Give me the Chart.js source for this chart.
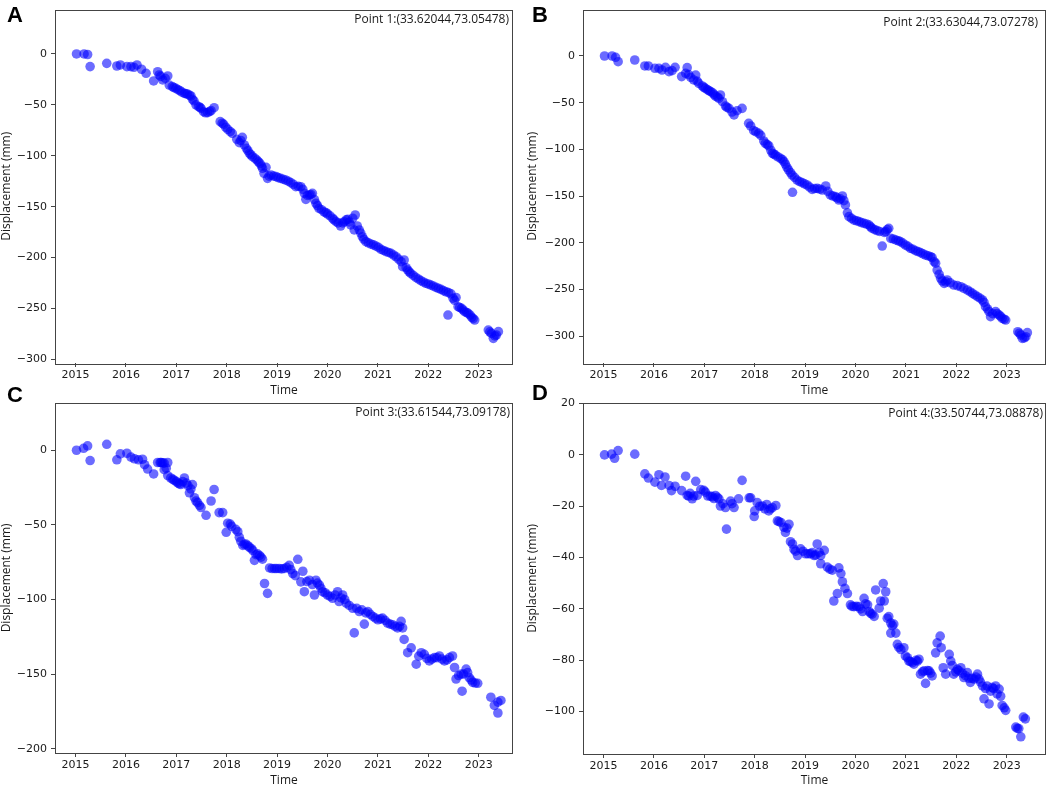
<!DOCTYPE html>
<html>
<head>
<meta charset="utf-8">
<script src="https://cdn.jsdelivr.net/npm/chart.js@4.4.0/dist/chart.umd.min.js"></script>
<style>
  body { margin: 0; background: #fff; }
  #wrap { position: relative; width: 1052px; height: 787px; overflow: hidden; background: #fff; }
  canvas { position: absolute; }
  .tag { position: absolute; font: bold 22px "Liberation Sans", Arial, sans-serif; line-height: 1; color: #000; }
</style>
</head>
<body>
<div id="wrap">
  <canvas id="chartA"></canvas>
  <canvas id="chartB"></canvas>
  <canvas id="chartC"></canvas>
  <canvas id="chartD"></canvas>
  <div class="tag" style="left:7px;top:4px">A</div>
  <div class="tag" style="left:532px;top:4px">B</div>
  <div class="tag" style="left:7px;top:384px">C</div>
  <div class="tag" style="left:532px;top:382px">D</div>
</div>
<script>
// values: [decimal year, displacement in mm]
const pointsA = [
  [2015.02, 0], [2015.17, 0], [2015.24, -0.5], [2015.29, -12.4], [2015.62, -9.2], [2015.82, -11.8],
  [2015.89, -10.8], [2016.02, -12.4], [2016.10, -12.4], [2016.16, -13.1], [2016.22, -10.8], [2016.31, -15],
  [2016.40, -19], [2016.55, -26.5], [2016.63, -17.4], [2016.66, -20.6], [2016.73, -25.5], [2016.78, -23.9],
  [2016.83, -21.6], [2016.86, -30.5], [2016.92, -32], [2016.99, -33.7], [2017.07, -36], [2017.16, -38.7],
  [2017.22, -39.3], [2017.29, -41.3], [2017.32, -44.5], [2017.39, -50], [2017.44, -51.8], [2017.49, -53.4],
  [2017.54, -56.7], [2017.62, -57.6], [2017.69, -55.7], [2017.75, -52.8], [2017.87, -66.5], [2017.94, -69.1],
  [2018.02, -74], [2018.07, -76.3], [2018.20, -83.8], [2018.25, -87.1], [2018.31, -81.9], [2018.35, -89.4],
  [2018.39, -92.7], [2018.45, -97.6], [2018.51, -100.9], [2018.60, -104.2], [2018.66, -107.4], [2018.71, -112.3],
  [2018.74, -117.3], [2018.78, -111.4], [2018.81, -122.2], [2018.88, -118.9], [2018.98, -120.5], [2019.07, -122.2],
  [2019.17, -123.8], [2019.27, -126.4], [2019.37, -130.4], [2019.47, -130.4], [2019.54, -136.9], [2019.57, -142.8],
  [2019.64, -138.5], [2019.70, -136.9], [2019.77, -146.7], [2019.83, -151.6], [2019.93, -155], [2020.00, -157.2],
  [2020.10, -161.4], [2020.17, -164.8], [2020.26, -169], [2020.33, -164.8], [2020.40, -162.5], [2020.46, -168],
  [2020.50, -161.4], [2020.53, -172.9], [2020.55, -158.2], [2020.63, -172.9], [2020.69, -179.5], [2020.76, -184.4],
  [2020.86, -186.7], [2020.96, -188.7], [2021.06, -191.9], [2021.16, -194.2], [2021.26, -195.8], [2021.36, -199.2],
  [2021.46, -204.1], [2021.49, -209], [2021.52, -202.4], [2021.59, -212.2], [2021.65, -215.5], [2021.75, -219.4],
  [2021.85, -222.7], [2021.95, -225.3], [2022.05, -227], [2022.15, -229.3], [2022.25, -231.3], [2022.35, -233.6],
  [2022.39, -256.5], [2022.45, -235.6], [2022.49, -240], [2022.55, -239.2], [2022.59, -248.3], [2022.66, -249.9],
  [2022.72, -253.2], [2022.79, -254.8], [2022.86, -258.7], [2022.92, -261.4], [2023.19, -271.2], [2023.25, -274.5],
  [2023.29, -279.4], [2023.35, -276.1], [2023.39, -272.8],
  // points inside the dense band
  [2016.69, -22], [2016.95, -33], [2017.03, -35], [2017.11, -37.5], [2017.19, -39], [2017.26, -40.5],
  [2017.35, -46], [2017.47, -52.5], [2017.58, -57.8], [2017.66, -56.5], [2017.91, -68], [2017.98, -72],
  [2018.11, -78], [2018.28, -85], [2018.42, -95], [2018.48, -99], [2018.56, -102.5], [2018.63, -106],
  [2018.69, -110], [2018.84, -120], [2018.93, -120], [2019.02, -121.5], [2019.12, -123], [2019.22, -125],
  [2019.32, -128], [2019.42, -130], [2019.51, -133], [2019.60, -139], [2019.67, -138], [2019.74, -143],
  [2019.80, -149], [2019.88, -153], [2019.97, -156], [2020.05, -159], [2020.13, -163], [2020.21, -166],
  [2020.30, -166], [2020.37, -163], [2020.43, -165], [2020.59, -169], [2020.66, -176], [2020.72, -182],
  [2020.81, -185.5], [2020.91, -187.5], [2021.01, -190], [2021.11, -193], [2021.21, -195], [2021.31, -197.5],
  [2021.41, -201.5], [2021.56, -210], [2021.62, -214], [2021.70, -217.5], [2021.80, -221], [2021.90, -224],
  [2022.00, -226], [2022.10, -228], [2022.20, -230.3], [2022.30, -232.5], [2022.40, -234.5], [2022.52, -242],
  [2022.62, -249], [2022.69, -251.5], [2022.76, -254], [2022.83, -256.5], [2022.89, -260], [2023.22, -273],
  [2023.32, -277]
];

const pointsB = [
  [2015.02, 0], [2015.17, 0], [2015.24, -1.4], [2015.29, -6.1], [2015.62, -4.3], [2015.82, -10.7],
  [2015.89, -10.7], [2016.02, -13.2], [2016.10, -13.2], [2016.16, -15], [2016.23, -12.1], [2016.30, -16.8],
  [2016.36, -15.7], [2016.42, -12.1], [2016.55, -22.1], [2016.63, -18.6], [2016.66, -12.5], [2016.73, -22.9],
  [2016.79, -25.7], [2016.83, -20.4], [2016.89, -29.3], [2016.96, -32.1], [2017.02, -34.6], [2017.09, -37.1],
  [2017.16, -39.3], [2017.22, -42.9], [2017.29, -45.4], [2017.32, -41.8], [2017.42, -53.6], [2017.49, -56.1],
  [2017.59, -63.2], [2017.65, -58.6], [2017.75, -56.1], [2017.88, -72.1], [2018.02, -81.1], [2018.08, -82.9],
  [2018.21, -93.6], [2018.28, -96.4], [2018.35, -104.3], [2018.41, -106.1], [2018.51, -109.6], [2018.58, -113.2],
  [2018.64, -119.3], [2018.74, -127.5], [2018.75, -146], [2018.84, -132.9], [2018.94, -135.7], [2019.04, -138.2],
  [2019.14, -142.9], [2019.24, -141.8], [2019.34, -143.6], [2019.41, -139.3], [2019.50, -148.9], [2019.60, -150.7],
  [2019.67, -154.3], [2019.74, -150], [2019.80, -159.6], [2019.87, -172.1], [2019.97, -175.7], [2020.07, -177.5],
  [2020.17, -179.3], [2020.27, -181.1], [2020.33, -184.6], [2020.43, -187.1], [2020.53, -203.6], [2020.60, -188.2],
  [2020.66, -184.6], [2020.70, -195.4], [2020.80, -197.1], [2020.89, -198.9], [2020.99, -202.5], [2021.09, -206],
  [2021.19, -208.6], [2021.29, -210.7], [2021.39, -213.2], [2021.49, -215], [2021.56, -220.4], [2021.62, -229.3],
  [2021.69, -238.2], [2021.76, -243.6], [2021.82, -240], [2021.95, -245.4], [2022.09, -247.2], [2022.22, -250.7],
  [2022.32, -254.3], [2022.42, -257.9], [2022.52, -261.4], [2022.58, -268.6], [2022.65, -273.9], [2022.68, -279.3],
  [2022.78, -273.9], [2022.85, -277.5], [2022.91, -281.1], [2022.98, -282.9], [2023.22, -295.4], [2023.28, -298.9],
  [2023.31, -302.5], [2023.38, -300.7], [2023.41, -296.4],
  // points inside the dense band
  [2016.69, -20], [2016.86, -27], [2016.99, -33.5], [2017.06, -36], [2017.12, -38], [2017.19, -41],
  [2017.26, -44], [2017.36, -49], [2017.45, -55], [2017.55, -60], [2017.92, -75], [2017.98, -80],
  [2018.12, -85], [2018.18, -91], [2018.25, -95], [2018.32, -101], [2018.38, -105], [2018.46, -108],
  [2018.55, -111], [2018.61, -116], [2018.67, -122], [2018.71, -125], [2018.79, -130], [2018.89, -134.5],
  [2018.99, -137], [2019.09, -140.5], [2019.19, -142], [2019.29, -142.5], [2019.45, -145], [2019.55, -150],
  [2019.63, -152], [2019.70, -153], [2019.77, -155], [2019.84, -168], [2019.92, -174], [2020.02, -176.5],
  [2020.12, -178.5], [2020.22, -180], [2020.30, -183], [2020.38, -186], [2020.48, -188], [2020.57, -189],
  [2020.63, -186], [2020.75, -196], [2020.85, -198], [2020.94, -200.5], [2021.04, -204], [2021.14, -207],
  [2021.24, -209.5], [2021.34, -212], [2021.44, -214], [2021.52, -216], [2021.59, -222], [2021.66, -234],
  [2021.72, -241], [2021.79, -242], [2021.88, -243], [2022.02, -246], [2022.15, -249], [2022.27, -252.5],
  [2022.37, -256], [2022.47, -259.5], [2022.55, -264], [2022.62, -271], [2022.72, -276], [2022.81, -276],
  [2022.88, -279], [2022.95, -282], [2023.25, -297], [2023.35, -302]
];

const pointsC = [
  [2015.02, 0], [2015.16, 1.3], [2015.24, 2.9], [2015.29, -6.9], [2015.62, 4], [2015.82, -6.4],
  [2015.89, -2.4], [2016.02, -2], [2016.10, -4.6], [2016.17, -5.7], [2016.25, -6.4], [2016.33, -6],
  [2016.37, -9.7], [2016.43, -12.6], [2016.55, -15.9], [2016.63, -8.2], [2016.70, -8.2], [2016.76, -8.6],
  [2016.76, -13], [2016.83, -8.2], [2016.83, -17], [2016.89, -18.6], [2016.96, -20.1], [2017.03, -21.9],
  [2017.09, -23], [2017.16, -18.6], [2017.23, -23.7], [2017.26, -28.5], [2017.32, -23], [2017.36, -31.8],
  [2017.42, -35.1], [2017.49, -38.4], [2017.59, -43.6], [2017.69, -34], [2017.75, -26.3], [2017.85, -41.8],
  [2017.92, -41.8], [2017.99, -55], [2018.02, -48.9], [2018.07, -49.5], [2018.22, -54.6], [2018.25, -58.3],
  [2018.32, -63.8], [2018.38, -62.8], [2018.45, -65], [2018.52, -67.2], [2018.55, -73.8], [2018.61, -69.4],
  [2018.68, -71.6], [2018.75, -89.3], [2018.81, -95.9], [2018.85, -78.9], [2018.95, -79.3], [2019.04, -79.3],
  [2019.14, -79.3], [2019.24, -77.1], [2019.31, -82.6], [2019.41, -73.1], [2019.47, -88.2], [2019.51, -81.1],
  [2019.54, -94.8], [2019.64, -87.1], [2019.74, -97], [2019.77, -87.1], [2019.84, -90.4], [2019.90, -94.8],
  [2020.00, -97], [2020.10, -99.2], [2020.20, -94.8], [2020.23, -101.4], [2020.30, -97], [2020.37, -102.5],
  [2020.50, -105.9], [2020.53, -122.4], [2020.63, -108.1], [2020.73, -116.5], [2020.80, -108.1], [2020.90, -111.4],
  [2021.00, -113.6], [2021.09, -112.5], [2021.19, -115.8], [2021.29, -116.9], [2021.39, -119.1], [2021.46, -114.7],
  [2021.49, -119.1], [2021.52, -126.8], [2021.59, -135.7], [2021.66, -132.4], [2021.76, -143.4], [2021.86, -135.7],
  [2021.92, -136.8], [2022.02, -141.2], [2022.12, -139], [2022.22, -137.9], [2022.32, -141.2], [2022.42, -139],
  [2022.48, -137.9], [2022.52, -145.6], [2022.55, -153.3], [2022.65, -150], [2022.67, -161.5], [2022.75, -146.7],
  [2022.81, -152.3], [2022.88, -155.6], [2022.98, -156.2], [2023.24, -165.5], [2023.31, -171], [2023.38, -168.8],
  [2023.38, -176.1], [2023.44, -167.7],
  // points inside the dense band
  [2016.68, -8.2], [2016.73, -8.4], [2016.80, -12], [2016.93, -19.5], [2017.00, -21], [2017.06, -22.5],
  [2017.13, -21], [2017.20, -22], [2017.29, -26], [2017.39, -34], [2017.46, -37], [2018.10, -51],
  [2018.18, -53], [2018.28, -61], [2018.35, -63], [2018.42, -64], [2018.49, -66], [2018.58, -70],
  [2018.65, -70.5], [2018.71, -73], [2018.90, -79.3], [2018.99, -79.3], [2019.09, -79.5], [2019.19, -78.5],
  [2019.27, -80], [2019.36, -84], [2019.59, -88], [2019.70, -90], [2019.80, -89], [2019.87, -92.5],
  [2019.95, -95.5], [2020.05, -98], [2020.15, -97], [2020.27, -99], [2020.34, -100], [2020.43, -104],
  [2020.58, -106], [2020.68, -107], [2020.76, -109], [2020.85, -110], [2020.95, -112.5], [2021.05, -113],
  [2021.14, -114], [2021.24, -116.5], [2021.34, -118], [2021.43, -118], [2021.81, -138], [2021.97, -139.5],
  [2022.07, -140], [2022.17, -139], [2022.27, -140], [2022.37, -140.5], [2022.60, -151], [2022.70, -150],
  [2022.78, -149], [2022.85, -154], [2022.93, -156]
];

const pointsD = [
  [2015.02, 0], [2015.16, 0.3], [2015.22, -1.3], [2015.29, 1.7], [2015.62, 0.3], [2015.82, -7.4],
  [2015.89, -9], [2016.02, -10.6], [2016.10, -7.7], [2016.15, -11.9], [2016.22, -8.6], [2016.30, -11.9],
  [2016.35, -13.9], [2016.42, -12.2], [2016.55, -13.9], [2016.63, -8.3], [2016.66, -15.8], [2016.72, -15],
  [2016.76, -17.1], [2016.83, -10.3], [2016.86, -15.8], [2016.93, -13.5], [2016.99, -13.8], [2017.07, -16],
  [2017.16, -16.3], [2017.22, -15.8], [2017.29, -17.1], [2017.32, -19.9], [2017.42, -20.5], [2017.44, -28.9],
  [2017.52, -18], [2017.59, -20.5], [2017.68, -17.1], [2017.75, -9.9], [2017.89, -16.7], [2017.92, -16.7],
  [2017.99, -24], [2018.00, -21.8], [2018.05, -18.6], [2018.15, -19.9], [2018.24, -19.3], [2018.28, -21.8],
  [2018.35, -20.5], [2018.42, -19.7], [2018.45, -25.7], [2018.52, -26.3], [2018.58, -28.2], [2018.61, -30.2],
  [2018.68, -27], [2018.71, -33.8], [2018.75, -34.7], [2018.78, -36.8], [2018.85, -39.2], [2018.91, -36.6],
  [2019.01, -38.5], [2019.11, -38.5], [2019.18, -39.2], [2019.24, -34.7], [2019.31, -39.2], [2019.31, -42.4],
  [2019.38, -37.2], [2019.44, -43.7], [2019.54, -44.9], [2019.57, -56.9], [2019.64, -54], [2019.67, -44],
  [2019.71, -46.2], [2019.74, -49.4], [2019.84, -54], [2019.90, -58.4], [2019.97, -59.1], [2020.07, -59.1],
  [2020.14, -61], [2020.17, -55.9], [2020.24, -58.4], [2020.30, -61.7], [2020.37, -62.9], [2020.40, -52.6],
  [2020.47, -59.7], [2020.50, -56.9], [2020.55, -50.1], [2020.57, -56.9], [2020.60, -53.3], [2020.63, -63.6],
  [2020.70, -65.5], [2020.70, -69.4], [2020.76, -65.9], [2020.80, -69.4], [2020.83, -73.8], [2020.90, -75.8],
  [2020.96, -75.1], [2020.99, -78.3], [2021.06, -80.3], [2021.13, -80.9], [2021.23, -80.3], [2021.26, -79.6],
  [2021.29, -85.4], [2021.36, -84.1], [2021.39, -89], [2021.46, -84.1], [2021.52, -86.1], [2021.59, -77.1],
  [2021.62, -73.2], [2021.68, -70.6], [2021.70, -75.1], [2021.74, -82.9], [2021.79, -85.4], [2021.86, -77.7],
  [2021.89, -80.3], [2021.95, -85.4], [2022.02, -83.5], [2022.09, -82.9], [2022.15, -86.7], [2022.22, -84.8],
  [2022.28, -88.6], [2022.35, -87.3], [2022.42, -85.4], [2022.45, -87.3], [2022.52, -90], [2022.55, -95],
  [2022.61, -90], [2022.65, -97], [2022.71, -90.6], [2022.78, -90], [2022.81, -93.1], [2022.85, -91.2],
  [2022.91, -97.6], [2022.98, -99.5], [2023.18, -106], [2023.24, -106.6], [2023.28, -109.8], [2023.33, -102.1],
  [2023.37, -102.8],
  // points inside the dense band
  [2016.69, -16], [2016.79, -16], [2017.02, -14.5], [2017.12, -16], [2017.19, -17], [2017.26, -16.5],
  [2017.37, -19], [2017.55, -19], [2018.10, -20], [2018.20, -21], [2018.31, -21], [2018.48, -26],
  [2018.64, -28.5], [2018.81, -37.5], [2018.96, -37.5], [2019.06, -38.5], [2019.14, -38], [2019.21, -39],
  [2019.28, -38], [2019.49, -44.5], [2019.79, -52], [2019.93, -59], [2020.02, -59], [2020.10, -60],
  [2020.20, -58], [2020.27, -61], [2020.33, -62], [2020.66, -63], [2020.73, -66.5], [2020.86, -75],
  [2021.03, -79], [2021.09, -80.5], [2021.16, -81.5], [2021.20, -80], [2021.33, -84.5], [2021.43, -84],
  [2021.49, -85], [2021.92, -82], [2021.99, -84.5], [2022.05, -84], [2022.12, -85], [2022.18, -86],
  [2022.25, -87], [2022.31, -87], [2022.39, -86.5], [2022.48, -88.5], [2022.58, -91], [2022.68, -92],
  [2022.74, -91], [2022.88, -94], [2022.95, -98.5], [2023.21, -106.5]
];

const yearTicks = [2015, 2016, 2017, 2018, 2019, 2020, 2021, 2022, 2023];
const ticksA = [0, -50, -100, -150, -200, -250, -300];
const ticksB = [0, -50, -100, -150, -200, -250, -300];
const ticksC = [0, -50, -100, -150, -200];
const ticksD = [20, 0, -20, -40, -60, -80, -100];

const pointNotes = [
  "Point 1:(33.62044,73.05478)",
  "Point 2:(33.63044,73.07278)",
  "Point 3:(33.61544,73.09178)",
  "Point 4:(33.50744,73.08878)"
];

// layout: box = canvas [left, top, w, h], area = plot rect inside canvas [l, t, r, b]
const panels = [
  { id: "chartA", points: pointsA, yTicks: ticksA, yMin: -303.6, yMax: 43.7, xMax: 2023.66,
    box: [0, 0, 526, 398], area: [56, 9.5, 512, 363], note: [509, 20], timePad: 1 },
  { id: "chartB", points: pointsB, yTicks: ticksB, yMin: -328.9, yMax: 49.8, xMax: 2023.76,
    box: [526, 0, 526, 398], area: [58, 9.5, 519, 363], note: [512, 22.5], timePad: 1 },
  { id: "chartC", points: pointsC, yTicks: ticksC, yMin: -202.9, yMax: 31.8, xMax: 2023.66,
    box: [0, 398, 526, 389], area: [56, 1, 512, 355], note: [510, 14.5], timePad: 0 },
  { id: "chartD", points: pointsD, yTicks: ticksD, yMin: -116.5, yMax: 20.3, xMax: 2023.76,
    box: [526, 398, 526, 389], area: [58, 1, 519, 356], note: [517, 16], timePad: 0 }
];

const tickFont = { family: "DejaVu Sans", size: 11 };
const titleFont = { family: "Open Sans", size: 12, lineHeight: 1 };
const minus = (v) => (v < 0 ? "\u2212" + Math.abs(v) : String(v));

const framePlugin = (note, pos) => ({
  id: "frame",
  afterDraw(chart) {
    const { ctx, chartArea: a } = chart;
    ctx.save();
    ctx.strokeStyle = "#444";
    ctx.lineWidth = 1;
    ctx.strokeRect(Math.round(a.left) - 0.5, Math.round(a.top) + 0.5,
      Math.round(a.right - a.left) + 1, Math.round(a.bottom - a.top));
    ctx.fillStyle = "#1a1a1a";
    ctx.font = '12px "Open Sans"';
    ctx.textAlign = "right";
    ctx.textBaseline = "middle";
    ctx.fillText(note, pos[0], pos[1]);
    ctx.restore();
  }
});

panels.forEach((p, i) => {
  const [bx, by, bw, bh] = p.box;
  const [aL, aT, aR, aB] = p.area;
  const el = document.getElementById(p.id);
  el.width = bw;
  el.height = bh;
  el.style.left = bx + "px";
  el.style.top = by + "px";

  new Chart(el, {
    type: "scatter",
    data: {
      datasets: [{
        data: p.points.map(([x, y]) => ({ x, y })),
        backgroundColor: "rgba(0,0,255,0.58)",
        pointRadius: 4.8,
        pointHoverRadius: 4.8,
        pointBorderWidth: 0
      }]
    },
    options: {
      responsive: false,
      animation: false,
      devicePixelRatio: 1,
      events: [],
      layout: { padding: { left: 0, top: aT, right: bw - aR, bottom: 0 } },
      plugins: { legend: { display: false }, tooltip: { enabled: false } },
      scales: {
        x: {
          type: "linear",
          min: 2014.613,
          max: p.xMax,
          afterBuildTicks: (s) => { s.ticks = yearTicks.map((v) => ({ value: v })); },
          afterFit: (s) => { s.height = bh - aB; s.paddingLeft = 0; s.paddingRight = 0; },
          ticks: { callback: (v) => String(v), font: tickFont, color: "#1a1a1a", padding: 2, maxRotation: 0, autoSkip: false },
          grid: { drawOnChartArea: false, tickLength: 4, tickColor: "#444" },
          border: { display: false },
          title: { display: true, text: "Time", font: titleFont, color: "#1a1a1a", padding: { top: 0, bottom: p.timePad } }
        },
        y: {
          type: "linear",
          min: p.yMin,
          max: p.yMax,
          afterBuildTicks: (s) => { s.ticks = p.yTicks.map((v) => ({ value: v })); },
          afterFit: (s) => { s.width = aL; s.paddingTop = 0; s.paddingBottom = 0; },
          ticks: { callback: minus, font: tickFont, color: "#1a1a1a", padding: 4, autoSkip: false },
          grid: { drawOnChartArea: false, tickLength: 5, tickColor: "#444" },
          border: { display: false },
          title: { display: true, text: "Displacement (mm)", font: titleFont, color: "#1a1a1a", padding: { top: 1, bottom: 0 } }
        }
      }
    },
    plugins: [framePlugin(pointNotes[i], p.note)]
  });
});
</script>
</body>
</html>
